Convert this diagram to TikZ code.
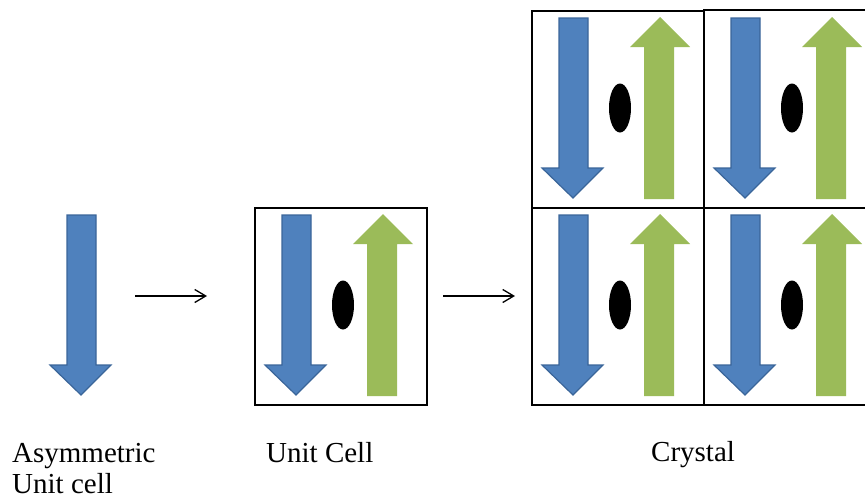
\documentclass[tikz,border=0pt]{standalone}
\usepackage{fontspec}
\setmainfont{Liberation Serif}
\usetikzlibrary{arrows.meta}
\definecolor{arrblue}{HTML}{4F81BD}
\definecolor{arrblueedge}{HTML}{3A6599}
\definecolor{arrgreen}{HTML}{9BBB59}
\tikzset{
  bluearrow/.style={fill=arrblue, draw=arrblueedge, line width=1.2pt, line join=miter},
  greenarrow/.style={fill=arrgreen, draw=none},
  centre/.style={fill=black, draw=none},
  cellbox/.style={draw=black, line width=2pt, fill=none},
  label/.style={font=\fontsize{29}{31}\selectfont, inner sep=0pt, anchor=base west},
  flowarrow/.style={line width=1.3pt, -{Straight Barb[length=11pt,width=13pt,line width=1.3pt]}}
}
% blue arrow with cell origin (#1,#2)
\newcommand{\mybluearrow}[2]{%
  \path[bluearrow] (#1+28,#2+8) -- (#1+57,#2+8) -- (#1+57,#2+158) -- (#1+72,#2+158)
    -- (#1+42,#2+188) -- (#1+11,#2+158) -- (#1+28,#2+158) -- cycle;}
\newcommand{\mygreenarrow}[2]{%
  \path[greenarrow] (#1+113,#2+189) -- (#1+143,#2+189) -- (#1+143,#2+37) -- (#1+159,#2+37)
    -- (#1+129,#2+7) -- (#1+99,#2+37) -- (#1+113,#2+37) -- cycle;}
\newcommand{\mycellcontent}[2]{%
  \mybluearrow{#1}{#2}\mygreenarrow{#1}{#2}%
  \path[centre] (#1+89,#2+98) ellipse[x radius=11, y radius=24.5];}
\begin{document}
\begin{tikzpicture}[x=1pt,y=-1pt]
\useasboundingbox (0,0) rectangle (865,499);
\clip (0,0) rectangle (865,499);
% asymmetric unit
\mybluearrow{39}{207}
% unit cell
\node[cellbox, minimum width=172pt, minimum height=197pt, inner sep=0pt, anchor=north west] (unit) at (254,207) {};
\mycellcontent{254}{207}
% crystal
\node[cellbox, minimum width=172pt, minimum height=197pt, inner sep=0pt, anchor=north west] (c11) at (531,10) {};
\node[cellbox, minimum width=172pt, minimum height=198pt, inner sep=0pt, anchor=north west] (c12) at (703,9) {};
\node[cellbox, minimum width=172pt, minimum height=197pt, inner sep=0pt, anchor=north west] (c21) at (531,207) {};
\node[cellbox, minimum width=172pt, minimum height=197pt, inner sep=0pt, anchor=north west] (c22) at (703,207) {};
\mycellcontent{531}{10}
\mycellcontent{703}{10}
\mycellcontent{531}{207}
\mycellcontent{703}{207}
% flow arrows
\coordinate (f1s) at (135,296);
\coordinate (f1e) at (207,296);
\coordinate (f2s) at (443,296);
\coordinate (f2e) at (515,296);
\draw[flowarrow] (f1s) -- (f1e);
\draw[flowarrow] (f2s) -- (f2e);
% labels
\node[label] (l1) at (12,462) {Asymmetric};
\node[label] (l2) at (12,493) {Unit cell};
\node[label] (l3) at (266,462) {Unit Cell};
\node[label] (l4) at (651,461) {Crystal};
\end{tikzpicture}
\end{document}
